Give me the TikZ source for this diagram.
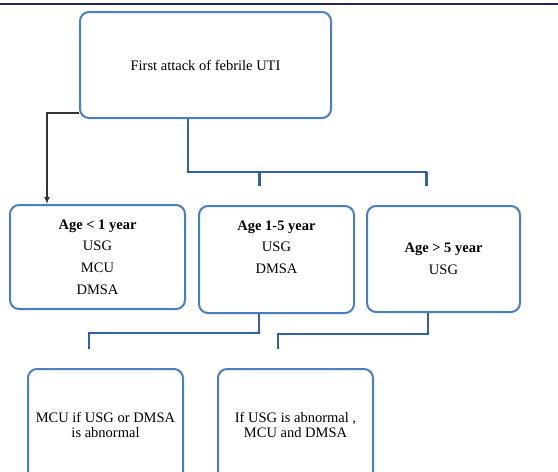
\documentclass[tikz,border=0pt]{standalone}
\usepackage{fontspec}
\setmainfont{Liberation Serif}
\usetikzlibrary{calc,arrows.meta}
\definecolor{boxblue}{RGB}{74,126,194}
\definecolor{linkblue}{RGB}{52,96,164}
\definecolor{topnavy}{RGB}{38,40,82}

\begin{document}
\begin{tikzpicture}[x=1pt,y=-1pt,
  box/.style={draw=boxblue, line width=2pt, rounded corners=9pt, align=center,
    inner sep=0pt, font=\fontsize{14.5}{21.8}\selectfont},
  link/.style={draw=linkblue, line width=2.6pt}]
\useasboundingbox (0,0) rectangle (558,472);
\clip (0,0) rectangle (558,472);
\draw [topnavy, line width=2.2pt] (0,4)--(558,4);

\node[box, minimum width=251, minimum height=106] (uti) at (205.5,65) {First attack of febrile UTI};

\node[box, minimum width=175, minimum height=104] (age1) at (97.5,257)
  {\textbf{Age < 1 year}\\USG\\MCU\\DMSA};
\node[box, minimum width=155, minimum height=107] (age2) at (276.5,259.5)
  {\textbf{Age 1-5 year}\\USG\\DMSA\\[3pt]};
\node[box, minimum width=153, minimum height=106] (age3) at (443.5,259)
  {\textbf{Age > 5 year}\\USG};

\node[box, minimum width=155, minimum height=112] (mcuif) at (105.5,425)
  {MCU if USG or DMSA\\[-6pt]is abnormal};
\node[box, minimum width=155, minimum height=112] (usgab) at (295.5,425)
  {If USG is abnormal ,\\[-6pt]MCU and DMSA};

% connectors
\draw [gray!40!black, line width=1.8pt, -{Latex[length=7pt,width=6pt]}] ($(uti.south west)+(0,-6)$) -| ($(age1.north west)+(38,0)$);
\draw [link] ($(uti.south)+(-17.5,0)$) |- ($(age3.north)+(-16.5,-33)$);
\foreach \b in {age2,age3}
{	\draw [link] ($(\b.north)+(-17,-33)$)--($(\b.north)+(-17,-19)$);
}
\draw [link] ($(age2.south)+(-17.5,0)$) |- ($(mcuif.north)+(-16.5,-35)$) -- ($(mcuif.north)+(-16.5,-19)$);
\draw [link] ($(age3.south)+(-15.5,0)$) |- ($(usgab.north)+(-17.5,-34)$) -- ($(usgab.north)+(-17.5,-19)$);
\end{tikzpicture}
\end{document}
